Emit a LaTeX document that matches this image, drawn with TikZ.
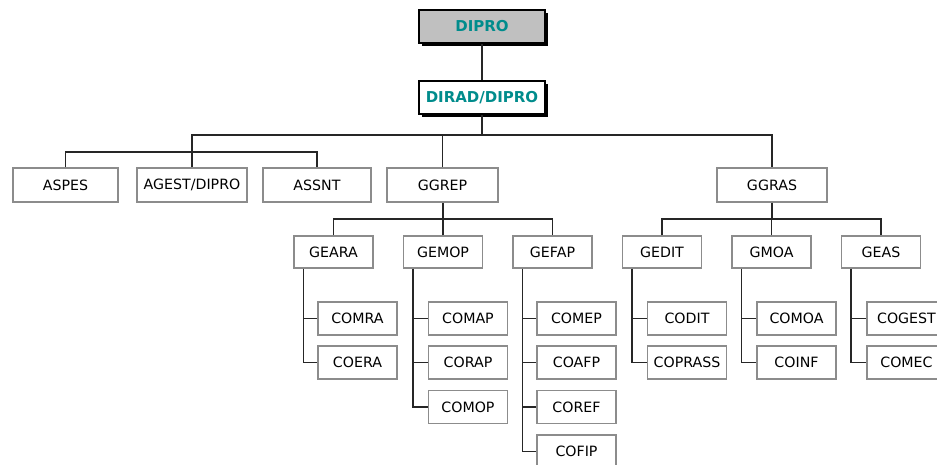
\documentclass[tikz,border=0pt]{standalone}
\usepackage{fontspec}
\setmainfont{DejaVu Sans}
\usetikzlibrary{shadows}
\definecolor{teal1}{RGB}{0,140,140}
\definecolor{boxgray}{RGB}{140,140,140}
\definecolor{headfill}{RGB}{192,192,192}
\tikzset{
  box/.style={draw=boxgray, line width=1.2pt, fill=white, inner sep=0pt,
    font=\fontsize{14.2}{15}\selectfont, text=black},
  headbox/.style={draw=black, line width=1.2pt, inner sep=0pt,
    minimum width=126pt, minimum height=33pt,
    font=\fontsize{15}{16}\selectfont\bfseries, text=teal1,
    drop shadow={shadow xshift=2.5pt, shadow yshift=-2.5pt, fill=black, opacity=1}},
  top/.style={box, minimum height=34pt},
  mid/.style={box, minimum width=79pt, minimum height=32pt},
  leaf/.style={box, minimum width=79pt, minimum height=33pt},
  conn/.style={draw=black!85, line width=1.3pt},
}
\begin{document}
\begin{tikzpicture}[x=1pt,y=-1pt]
\useasboundingbox (0,0) rectangle (937,464);
\clip (0,0) rectangle (937,464);
% coordinates for buses
\coordinate (b1) at (0,135);
\coordinate (b2) at (0,152);
\coordinate (b3) at (0,219);
% head boxes
\node[headbox, fill=headfill] (dipro) at (482,26.5) {DIPRO};
\node[headbox, fill=white] (dirad) at (482,97.5) {DIRAD/DIPRO};
% first row
\node[top, minimum width=105pt] (aspes) at (65.5,185) {ASPES};
\node[top, minimum width=110pt] (agest) at (192,185) {AGEST/DIPRO};
\node[top, minimum width=108pt] (assnt) at (317,185) {ASSNT};
\node[top, minimum width=111pt] (ggrep) at (442.5,185) {GGREP};
\node[top, minimum width=110pt] (ggras) at (772,185) {GGRAS};
% second row
\node[mid] (geara) at (333.5,252) {GEARA};
\node[mid] (gemop) at (443,252) {GEMOP};
\node[mid] (gefap) at (552.5,252) {GEFAP};
\node[mid] (gedit) at (662,252) {GEDIT};
\node[mid] (gmoa) at (771.5,252) {GMOA};
\node[mid] (geas) at (881,252) {GEAS};
% leaves
\node[leaf] (comra) at (357.5,318.5) {COMRA};
\node[leaf] (coera) at (357.5,362.5) {COERA};
\node[leaf] (comap) at (468,318.5) {COMAP};
\node[leaf] (corap) at (468,362.5) {CORAP};
\node[leaf] (comop) at (468,407) {COMOP};
\node[leaf] (comep) at (576.5,318.5) {COMEP};
\node[leaf] (coafp) at (576.5,362.5) {COAFP};
\node[leaf] (coref) at (576.5,407) {COREF};
\node[leaf] (cofip) at (576.5,451.5) {COFIP};
\node[leaf] (codit) at (687,318.5) {CODIT};
\node[leaf] (coprass) at (687,362.5) {COPRASS};
\node[leaf] (comoa) at (796.5,318.5) {COMOA};
\node[leaf] (coinf) at (796.5,362.5) {COINF};
\node[leaf] (cogest) at (906.5,318.5) {COGEST};
\node[leaf] (comec) at (906.5,362.5) {COMEC};
% connectors
\draw[conn] (dipro.south) -- (dirad.north);
\draw[conn] (dirad.south) -- (dirad.south |- b1);
\draw[conn] (agest.north) -- (agest.north |- b1) -| (ggras.north);
\draw[conn] (ggrep.north) -- (ggrep.north |- b1);
\draw[conn] (aspes.north) -- (aspes.north |- b2) -| (assnt.north);
% GGREP branch
\draw[conn] (gemop.north) -- (gemop.north |- ggrep.south);
\draw[conn] (geara.north) -- (geara.north |- b3) -| (gefap.north);
% GGRAS branch
\draw[conn] (ggras.south) -- (ggras.south |- b3);
\draw[conn] (gedit.north) -- (gedit.north |- b3) -| (geas.north);
\draw[conn] (gmoa.north) -- (gmoa.north |- b3);
% rails
\draw[conn] ([xshift=10pt]geara.south west) |- (coera.west);
\draw[conn] ([xshift=10pt]geara.south west |- comra.west) -- (comra.west);
\draw[conn] ([xshift=10pt]gemop.south west) |- (comop.west);
\draw[conn] ([xshift=10pt]gemop.south west |- comap.west) -- (comap.west);
\draw[conn] ([xshift=10pt]gemop.south west |- corap.west) -- (corap.west);
\draw[conn] ([xshift=10pt]gefap.south west) |- (cofip.west);
\draw[conn] ([xshift=10pt]gefap.south west |- comep.west) -- (comep.west);
\draw[conn] ([xshift=10pt]gefap.south west |- coafp.west) -- (coafp.west);
\draw[conn] ([xshift=10pt]gefap.south west |- coref.west) -- (coref.west);
\draw[conn] ([xshift=10pt]gedit.south west) |- (coprass.west);
\draw[conn] ([xshift=10pt]gedit.south west |- codit.west) -- (codit.west);
\draw[conn] ([xshift=10pt]gmoa.south west) |- (coinf.west);
\draw[conn] ([xshift=10pt]gmoa.south west |- comoa.west) -- (comoa.west);
\draw[conn] ([xshift=10pt]geas.south west) |- (comec.west);
\draw[conn] ([xshift=10pt]geas.south west |- cogest.west) -- (cogest.west);
\end{tikzpicture}
\end{document}
